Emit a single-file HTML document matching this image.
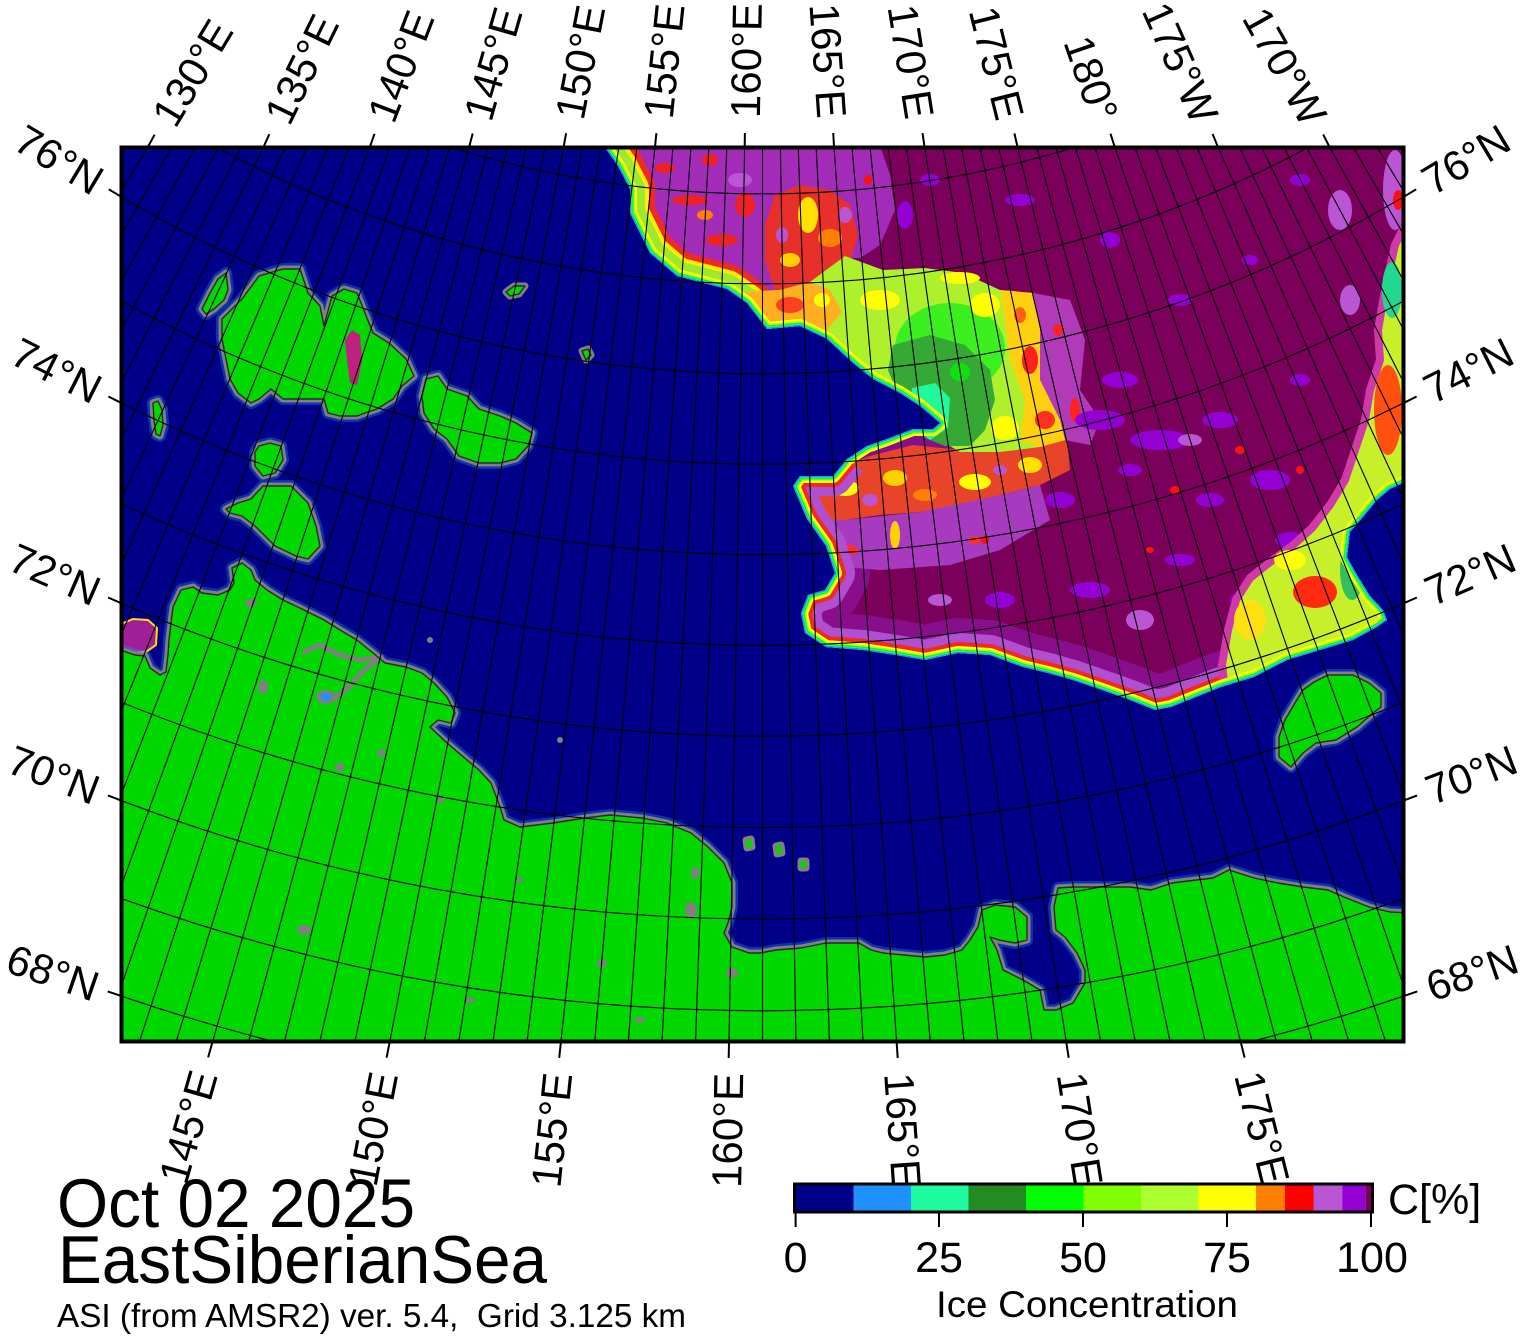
<!DOCTYPE html>
<html><head><meta charset="utf-8">
<style>
html,body{margin:0;padding:0;background:#fff;width:1527px;height:1336px;overflow:hidden}
svg{display:block}
text{font-family:"Liberation Sans",Arial,sans-serif;fill:#000}
</style></head>
<body>
<svg width="1527" height="1336" viewBox="0 0 1527 1336" xmlns="http://www.w3.org/2000/svg">
<defs>
<clipPath id="mc"><rect x="121" y="148" width="1283" height="894"/></clipPath>
<clipPath id="ic"><polygon points="600,100 604,146 618,166 630,189 630,213 650,253 677,276 727,289 747,303 767,329 800,326 827,339 853,363 873,379 900,393 920,406 940,423 933,429 913,429 887,439 867,446 847,459 833,476 800,476 793,486 807,519 826,546 835,573 825,590 808,595 801,613 805,633 826,647 863,650 896,655 925,660 958,653 990,655 1023,667 1048,673 1073,680 1102,690 1130,700 1155,710 1171,707 1196,697 1221,687 1254,677 1287,660 1320,650 1353,640 1377,627 1387,620 1383,610 1370,596 1357,575 1347,557 1350,532 1363,517 1377,500 1390,489 1410,480 1460,480 1460,100"/></clipPath>
<polygon id="ice" points="600,100 604,146 618,166 630,189 630,213 650,253 677,276 727,289 747,303 767,329 800,326 827,339 853,363 873,379 900,393 920,406 940,423 933,429 913,429 887,439 867,446 847,459 833,476 800,476 793,486 807,519 826,546 835,573 825,590 808,595 801,613 805,633 826,647 863,650 896,655 925,660 958,653 990,655 1023,667 1048,673 1073,680 1102,690 1130,700 1155,710 1171,707 1196,697 1221,687 1254,677 1287,660 1320,650 1353,640 1377,627 1387,620 1383,610 1370,596 1357,575 1347,557 1350,532 1363,517 1377,500 1390,489 1410,480 1460,480 1460,100"/>
<polyline id="edgeA" points="600,100 604,146 618,166 630,189 630,213 650,253 677,276 727,289 747,303 767,329"/>
<polyline id="edgeC" points="847,459 833,476 800,476 793,486 807,519 826,546 835,573 825,590 808,595 801,613 805,633 826,647 863,650 896,655 925,660 958,653 990,655 1023,667 1048,673 1073,680 1102,690 1130,700 1155,710 1171,707 1196,697 1221,687 1254,677 1287,660 1320,650 1353,640 1377,627 1387,620 1383,610 1370,596 1357,575 1347,557 1350,532 1363,517 1377,500 1390,489 1410,480"/>
<polygon id="main" points="110,650 120,650 135,655 145,656 150,668 160,675 166,672 168,655 169,640 171,623 173,607 181,590 193,587 202,593 218,595 230,590 234,583 232,568 242,563 251,570 255,580 267,590 283,600 304,610 324,620 340,630 357,640 373,653 385,663 406,667 422,673 434,683 447,697 455,713 451,723 438,720 430,727 447,743 467,760 479,770 491,783 500,807 504,820 520,827 553,823 585,818 610,815 642,818 667,823 691,833 708,847 724,863 732,883 732,907 728,923 724,933 732,947 749,953 760,953 776,950 801,948 826,943 859,943 871,950 883,953 904,955 925,957 945,955 962,950 970,940 978,927 982,910 995,905 1015,907 1027,917 1027,940 1015,943 999,940 990,937 997,950 1003,970 1023,980 1040,990 1044,1010 1056,1010 1073,1003 1085,983 1085,970 1077,953 1065,937 1056,930 1054,907 1058,888 1073,887 1102,887 1130,887 1151,890 1172,883 1196,880 1213,878 1229,870 1254,878 1278,883 1303,887 1328,890 1344,897 1369,907 1390,912 1410,913 1410,1050 110,1050"/>
<polygon id="kot" points="222,319 242,299 259,276 283,269 300,269 308,293 320,306 324,326 332,296 344,289 357,293 365,313 373,333 389,343 406,359 414,376 402,386 393,399 377,409 365,413 357,416 340,416 328,413 324,399 308,399 283,399 271,389 259,399 251,403 238,393 230,379 226,359 222,339"/>
<polygon id="belk" points="202,309 210,293 218,279 226,273 228,290 224,300 214,309 206,314"/>
<polygon id="nsib" points="426,379 438,376 447,389 467,396 479,409 500,416 516,423 532,433 528,446 516,459 500,463 479,463 459,456 447,439 434,429 424,413 422,396"/>
<polygon id="thin" points="153,403 158,401 162,410 163,425 160,436 156,434 154,420"/>
<polygon id="ly1" points="259,446 270,443 281,446 283,460 275,473 263,476 255,466 255,452"/>
<polygon id="ly2" points="263,486 291,486 308,503 316,526 320,546 308,559 296,556 275,546 255,526 242,516 230,513 226,509 238,503 251,499"/>
<polygon id="t1" points="506,292 514,286 525,286 519,294 510,296"/>
<polygon id="t2" points="582,351 588,349 591,355 586,360"/>
<polygon id="wr" points="1328,675 1353,675 1369,683 1381,693 1381,707 1373,713 1357,727 1336,740 1316,743 1303,753 1291,767 1279,757 1279,737 1285,720 1295,703 1303,690 1314,682"/>
<polygon id="s1" points="746,840 751,839 752,847 747,848"/>
<polygon id="s2" points="776,846 781,845 782,853 777,854"/>
<polygon id="s3" points="801,861 806,861 806,868 801,868"/>
</defs>

<g clip-path="url(#mc)">
<rect x="110" y="140" width="1310" height="910" fill="#000088"/>

<!-- ICE -->
<use href="#ice" fill="#7a005c"/>
<g clip-path="url(#ic)" stroke-linejoin="round">
  <use href="#ice" fill="none" stroke="#9a20c8" stroke-width="70" opacity="0.45"/>
  <polygon points="604,146 880,146 890,175 895,210 880,245 860,258 845,258 800,290 760,305 724,290 691,278 675,270 655,255 647,235 630,213 630,189 618,166" fill="#a22cb8"/>
  <g fill="#ee2222">
    <ellipse cx="690" cy="200" rx="18" ry="5"/><ellipse cx="722" cy="240" rx="16" ry="6"/>
    <ellipse cx="665" cy="168" rx="10" ry="5"/><ellipse cx="745" cy="205" rx="10" ry="12"/>
    <ellipse cx="710" cy="160" rx="8" ry="6"/>
  </g>
  <ellipse cx="705" cy="215" rx="8" ry="5" fill="#ff8000"/>
  <ellipse cx="740" cy="180" rx="12" ry="7" fill="#ba55d3"/>
  <polygon points="775,195 800,185 830,190 850,205 858,235 850,262 830,280 800,295 775,290 765,260 765,225" fill="#e8302a"/>
  <ellipse cx="808" cy="215" rx="10" ry="18" fill="#ffe000"/>
  <ellipse cx="830" cy="238" rx="12" ry="9" fill="#ff8000"/>
  <ellipse cx="790" cy="260" rx="10" ry="7" fill="#ffd000"/>
  <ellipse cx="845" cy="215" rx="7" ry="8" fill="#ba55d3"/>
  <ellipse cx="782" cy="235" rx="6" ry="8" fill="#ba55d3"/>
  <polygon points="793,476 833,470 870,456 913,445 960,450 1000,445 1040,436 1067,440 1070,470 1040,485 1000,495 960,505 920,512 880,515 845,520 820,525 807,519 793,486" fill="#e8442a"/>
  <polygon points="807,519 845,520 920,512 1000,495 1040,485 1050,520 1000,550 950,565 880,570 833,566 826,546" fill="#a83ac0"/>
  <ellipse cx="845" cy="488" rx="14" ry="8" fill="#ffff00"/>
  <ellipse cx="895" cy="478" rx="12" ry="8" fill="#ffd000"/>
  <ellipse cx="975" cy="482" rx="16" ry="8" fill="#ffff00"/>
  <ellipse cx="1030" cy="465" rx="12" ry="8" fill="#ffe000"/>
  <ellipse cx="925" cy="495" rx="12" ry="6" fill="#ff8000"/>
  <ellipse cx="870" cy="500" rx="8" ry="6" fill="#ba55d3"/>
  <ellipse cx="1000" cy="470" rx="7" ry="5" fill="#ba55d3"/>
  <ellipse cx="895" cy="535" rx="5" ry="14" fill="#ffd000"/>
  <ellipse cx="850" cy="550" rx="8" ry="5" fill="#ff3020"/>
  <ellipse cx="975" cy="540" rx="6" ry="4" fill="#ff3020"/>
  <polygon points="1033,293 1070,300 1085,340 1080,390 1100,420 1090,445 1065,440 1060,420 1040,380 1040,330" fill="#b03ab8"/>
  <ellipse cx="1075" cy="410" rx="5" ry="12" fill="#ff2020"/>
  <ellipse cx="1058" cy="330" rx="5" ry="6" fill="#ff2020"/>
  <g fill="#9400d3">
   <ellipse cx="1020" cy="200" rx="15" ry="6"/><ellipse cx="1110" cy="240" rx="10" ry="8"/>
   <ellipse cx="1180" cy="300" rx="12" ry="6"/><ellipse cx="1250" cy="260" rx="8" ry="5"/>
   <ellipse cx="1300" cy="180" rx="10" ry="6"/><ellipse cx="1100" cy="420" rx="25" ry="10"/>
   <ellipse cx="1160" cy="440" rx="30" ry="10"/><ellipse cx="1220" cy="420" rx="18" ry="8"/>
   <ellipse cx="1270" cy="480" rx="20" ry="10"/><ellipse cx="1210" cy="500" rx="14" ry="7"/>
   <ellipse cx="1130" cy="470" rx="12" ry="6"/><ellipse cx="1060" cy="500" rx="15" ry="8"/>
   <ellipse cx="1300" cy="380" rx="10" ry="6"/><ellipse cx="930" cy="180" rx="10" ry="6"/>
   <ellipse cx="1180" cy="560" rx="15" ry="6"/><ellipse cx="1090" cy="590" rx="20" ry="8"/>
   <ellipse cx="1000" cy="600" rx="15" ry="8"/><ellipse cx="1250" cy="600" rx="20" ry="10"/>
   <ellipse cx="1290" cy="540" rx="15" ry="8"/><ellipse cx="1120" cy="380" rx="18" ry="8"/>
   <ellipse cx="905" cy="215" rx="8" ry="14"/>
  </g>
  <g fill="#ba55d3">
   <ellipse cx="1140" cy="620" rx="14" ry="10"/><ellipse cx="940" cy="600" rx="12" ry="6"/>
   <ellipse cx="1350" cy="300" rx="10" ry="15"/><ellipse cx="1340" cy="210" rx="12" ry="20"/>
   <ellipse cx="1395" cy="190" rx="12" ry="40"/><ellipse cx="1190" cy="440" rx="12" ry="6"/>
  </g>
  <g fill="#ff1010">
   <ellipse cx="1240" cy="450" rx="5" ry="4"/><ellipse cx="1175" cy="490" rx="5" ry="4"/>
   <ellipse cx="1300" cy="470" rx="4" ry="4"/><ellipse cx="1150" cy="550" rx="4" ry="3"/>
   <ellipse cx="985" cy="540" rx="4" ry="4"/><ellipse cx="1398" cy="200" rx="5" ry="10"/>
   <ellipse cx="868" cy="180" rx="4" ry="5"/>
  </g>
  <use href="#edgeC" fill="none" stroke="#b050d0" stroke-width="40"/>
  <use href="#edgeC" fill="none" stroke="#f02a20" stroke-width="22"/>
  <use href="#edgeA" fill="none" stroke="#f02a20" stroke-width="50"/>
  <use href="#edgeA" fill="none" stroke="#ffee00" stroke-width="38"/>
  <use href="#edgeA" fill="none" stroke="#9ee830" stroke-width="30"/>
  <polygon points="1405,225 1395,245 1385,290 1378,330 1380,360 1370,390 1365,420 1355,450 1345,480 1330,505 1312,528 1292,546 1270,562 1250,578 1236,600 1228,630 1222,665 1225,690 1257,675 1290,660 1317,653 1350,646 1377,635 1387,625 1383,610 1370,596 1357,575 1347,557 1350,532 1363,517 1377,500 1390,489 1410,480 1410,225" fill="#c8f02a" stroke="#d03aa8" stroke-width="8"/>
  <ellipse cx="1315" cy="592" rx="22" ry="16" fill="#ff2a10"/>
  <ellipse cx="1388" cy="410" rx="14" ry="45" fill="#ff5010"/>
  <ellipse cx="1352" cy="570" rx="12" ry="30" fill="#30c060"/>
  <ellipse cx="1392" cy="290" rx="10" ry="28" fill="#20d890"/>
  <ellipse cx="1250" cy="620" rx="16" ry="20" fill="#ffe010"/>
  <ellipse cx="1290" cy="560" rx="16" ry="10" fill="#ffff00"/>
  <polygon points="745,292 780,290 810,282 845,256 883,270 925,268 963,273 1000,290 1033,293 1040,330 1040,380 1060,420 1065,440 1040,447 1000,452 960,452 940,440 941,429 937,419 925,406 896,393 867,376 842,359 822,339 801,328 767,329 747,303" fill="#aef02c"/>
  <polygon points="745,292 780,290 810,282 830,290 842,312 825,332 801,328 767,329 747,303" fill="#ffb020"/>
  <ellipse cx="790" cy="305" rx="14" ry="8" fill="#ff4020"/>
  <ellipse cx="822" cy="300" rx="8" ry="7" fill="#ffff00"/>
  <polygon points="1000,290 1033,293 1040,330 1040,380 1060,420 1065,440 1040,447 1020,440 1025,400 1010,360 1005,320" fill="#ffd010"/>
  <ellipse cx="1030" cy="360" rx="8" ry="14" fill="#ff2020"/>
  <ellipse cx="1045" cy="420" rx="10" ry="9" fill="#ff3020"/>
  <ellipse cx="1020" cy="315" rx="6" ry="8" fill="#ff6010"/>
  <ellipse cx="950" cy="348" rx="55" ry="45" fill="#3cf020"/>
  <ellipse cx="880" cy="300" rx="20" ry="10" fill="#ffff00"/>
  <ellipse cx="985" cy="305" rx="15" ry="12" fill="#ffff00"/>
  <ellipse cx="960" cy="278" rx="20" ry="6" fill="#ffff00"/>
  <ellipse cx="1005" cy="428" rx="14" ry="12" fill="#ffff00"/>
  <polygon points="893,345 930,335 965,345 990,370 995,400 985,430 970,446 945,446 925,438 910,420 898,395 888,370" fill="#35a835"/>
  <ellipse cx="960" cy="372" rx="10" ry="9" fill="#10e010"/>
  <polygon points="912,388 935,383 950,398 948,428 930,440 918,430 910,408" fill="#1efa9a"/>
  <use href="#ice" fill="none" stroke="#ffff00" stroke-width="14"/>
  <use href="#ice" fill="none" stroke="#adff2f" stroke-width="10"/>
  <use href="#ice" fill="none" stroke="#00ff00" stroke-width="7"/>
  <use href="#ice" fill="none" stroke="#1efa9a" stroke-width="4.5"/>
  <use href="#ice" fill="none" stroke="#1e90ff" stroke-width="2.5"/>
</g>

<polygon points="121,624 133,619 148,620 157,628 156,645 146,652 130,653 121,650" fill="#a01e9a" stroke="#ffdd00" stroke-width="2"/>

<!-- LAND -->
<g fill="none" stroke="#1e90ff" stroke-width="12" stroke-linejoin="round" opacity="0.35">
  <use href="#main"/><use href="#kot"/><use href="#belk"/><use href="#nsib"/><use href="#thin"/><use href="#ly1"/><use href="#ly2"/><use href="#wr"/>
</g>
<g fill="#808080" stroke="#808080" stroke-width="7" stroke-linejoin="round">
  <use href="#main"/><use href="#kot"/><use href="#belk"/><use href="#nsib"/><use href="#thin"/><use href="#ly1"/><use href="#ly2"/><use href="#t1"/><use href="#t2"/><use href="#wr"/><use href="#s1"/><use href="#s2"/><use href="#s3"/>
</g>
<g fill="#00d800">
  <use href="#main"/><use href="#kot"/><use href="#belk"/><use href="#nsib"/><use href="#thin"/><use href="#ly1"/><use href="#ly2"/><use href="#t1"/><use href="#t2"/><use href="#wr"/><use href="#s1"/><use href="#s2"/><use href="#s3"/>
</g>
<polygon points="345,340 352,330 360,335 362,360 357,385 350,383 347,360" fill="#c02080"/>
<g fill="none" stroke="#808080" stroke-width="5" stroke-linejoin="round" stroke-linecap="round">
  <polyline points="304,652 320,645 340,655 360,660 381,657"/>
  <polyline points="381,657 362,672 348,688 332,700"/>
</g>
<ellipse cx="326" cy="697" rx="10" ry="7" fill="#808080"/>
<ellipse cx="326" cy="697" rx="5" ry="4" fill="#1e90ff"/>
<g fill="#808080">
  <ellipse cx="263" cy="687" rx="5" ry="7"/><ellipse cx="251" cy="603" rx="6" ry="4"/>
  <ellipse cx="340" cy="767" rx="5" ry="4"/><ellipse cx="304" cy="930" rx="7" ry="5"/>
  <ellipse cx="691" cy="910" rx="6" ry="8"/><ellipse cx="695" cy="873" rx="4" ry="6"/>
  <ellipse cx="732" cy="973" rx="6" ry="5"/><ellipse cx="602" cy="963" rx="5" ry="4"/>
  <ellipse cx="381" cy="753" rx="4" ry="4"/><ellipse cx="440" cy="800" rx="4" ry="3"/>
  <ellipse cx="520" cy="880" rx="3" ry="3"/><ellipse cx="470" cy="1000" rx="5" ry="3"/>
  <ellipse cx="560" cy="740" rx="3" ry="3"/><ellipse cx="640" cy="1020" rx="5" ry="3"/>
  <ellipse cx="430" cy="640" rx="3" ry="3"/>
</g>
<g fill="none" stroke="#2a2a2a" stroke-width="1.4" stroke-linejoin="round">
  <use href="#main"/><use href="#kot"/><use href="#belk"/><use href="#nsib"/><use href="#thin"/><use href="#ly1"/><use href="#ly2"/><use href="#t1"/><use href="#t2"/><use href="#wr"/>
</g>

<!-- GRID: meridians (1 degree) -->
<path fill="none" stroke="#000" stroke-width="1.1" d="M123.88,146L120,152.2M148.42,146L120,193.3M172.45,146L120,236.9M196,146L120,283.1M219.09,146L120,332.4M241.77,146L120,385M264.04,146L120,441.3M285.93,146L120,501.9M307.48,146L120,567.1M328.69,146L120,637.6M349.59,146L120,714.2M370.19,146L120,797.8M390.52,146L120,889.3M410.6,146L120,989.9M430.43,146L138.98,1043M450.04,146L175.8,1043M469.45,146L212.24,1043M488.66,146L248.31,1043M507.69,146L284.04,1043M526.55,146L319.46,1043M545.27,146L354.6,1043M563.84,146L389.48,1043M582.29,146L424.13,1043M600.63,146L458.56,1043M618.87,146L492.8,1043M637.01,146L526.88,1043M655.08,146L560.81,1043M673.09,146L594.61,1043M691.04,146L628.31,1043M708.94,146L661.93,1043M726.81,146L695.49,1043M744.66,146L729,1043M762.5,146L762.5,1043M780.34,146L796,1043M798.19,146L829.51,1043M816.06,146L863.07,1043M833.96,146L896.69,1043M851.91,146L930.39,1043M869.92,146L964.19,1043M887.99,146L998.12,1043M906.13,146L1032.2,1043M924.37,146L1066.44,1043M942.71,146L1100.87,1043M961.16,146L1135.52,1043M979.73,146L1170.4,1043M998.45,146L1205.54,1043M1017.31,146L1240.96,1043M1036.34,146L1276.69,1043M1055.55,146L1312.76,1043M1074.96,146L1349.2,1043M1094.57,146L1386.02,1043M1114.4,146L1405,989.9M1134.48,146L1405,889.3M1154.81,146L1405,797.8M1175.41,146L1405,714.2M1196.31,146L1405,637.6M1217.52,146L1405,567.1M1239.07,146L1405,501.9M1260.96,146L1405,441.3M1283.23,146L1405,385M1305.91,146L1405,332.4M1329,146L1405,283.1M1352.55,146L1405,236.9M1376.58,146L1405,193.3M1401.12,146L1405,152.2"/>
<!-- GRID: parallels (1 degree) -->
<path fill="none" stroke="#000" stroke-width="1.1" d="M120,995.6A1978.8,1978.8 0 0 0 1405,995.6M120,898A1886.8,1886.8 0 0 0 1405,898M120,800.1A1795,1795 0 0 0 1405,800.1M120,701.7A1703.5,1703.5 0 0 0 1405,701.7M120,602.7A1612.3,1612.3 0 0 0 1405,602.7M120,503.1A1521.4,1521.4 0 0 0 1405,503.1M120,402.3A1430.7,1430.7 0 0 0 1405,402.3M120,300.2A1340.2,1340.2 0 0 0 1405,300.2M120,196A1249.9,1249.9 0 0 0 1405,196M214,146A1159.9,1159.9 0 0 0 1311,146M446,146A1069.9,1069.9 0 0 0 1079,146"/>
</g>

<!-- FRAME -->
<rect x="121.5" y="147.5" width="1282" height="894" fill="none" stroke="#000" stroke-width="4"/>

<!-- TICKS -->
<path fill="none" stroke="#000" stroke-width="2" d="M148.4,146L154.6,134.7M264,146L269.3,134.2M370.2,146L374.5,133.8M469.4,146L472.7,133.5M563.8,146L566.1,133.2M655.1,146L656.4,133.1M744.7,146L744.9,133M834,146L833.2,133M924.4,146L922.5,133.1M1017.3,146L1014.4,133.4M1114.4,146L1110.5,133.7M1217.5,146L1212.6,134M1329,146L1323.2,134.5M212.2,1043L208.1,1057.4M389.5,1043L386.6,1057.7M560.8,1043L559.2,1057.9M729,1043L728.7,1058M896.7,1043L897.7,1058M1066.4,1043L1068.7,1057.8M1241,1043L1244.6,1057.6M120,196L108.8,189.3M120,402.3L108.4,396.5M120,602.7L108.1,597.5M120,800.1L107.9,795.4M120,995.6L107.7,991.4M1405,196L1416.2,189.3M1405,402.3L1416.6,396.5M1405,602.7L1416.9,597.5M1405,800.1L1417.1,795.4M1405,995.6L1417.3,991.4"/>

<!-- LABELS -->
<g font-size="42">
<text x="162.8" y="122" dy="0.35em" transform="rotate(-59 162.8 122)">130°E</text>
<text x="276.3" y="120.8" dy="0.35em" transform="rotate(-64 276.3 120.8)">135°E</text>
<text x="380.2" y="119.9" dy="0.35em" transform="rotate(-69 380.2 119.9)">140°E</text>
<text x="477.1" y="119.1" dy="0.35em" transform="rotate(-74 477.1 119.1)">145°E</text>
<text x="569.1" y="118.5" dy="0.35em" transform="rotate(-79 569.1 118.5)">150°E</text>
<text x="658" y="118.2" dy="0.35em" transform="rotate(-84 658 118.2)">155°E</text>
<text x="745.2" y="118" dy="0.35em" transform="rotate(-89 745.2 118)">160°E</text>
<text x="832" y="118.1" dy="0.35em" text-anchor="end" transform="rotate(86 832 118.1)">165°E</text>
<text x="920" y="118.3" dy="0.35em" text-anchor="end" transform="rotate(81 920 118.3)">170°E</text>
<text x="1010.5" y="118.8" dy="0.35em" text-anchor="end" transform="rotate(76 1010.5 118.8)">175°E</text>
<text x="1105.3" y="119.5" dy="0.35em" text-anchor="end" transform="rotate(71 1105.3 119.5)">180°</text>
<text x="1206.1" y="120.4" dy="0.35em" text-anchor="end" transform="rotate(66 1206.1 120.4)">175°W</text>
<text x="1315.4" y="121.5" dy="0.35em" text-anchor="end" transform="rotate(61 1315.4 121.5)">170°W</text>
<text x="203.9" y="1071.8" dy="0.35em" text-anchor="end" transform="rotate(-74 203.9 1071.8)">145°E</text>
<text x="383.8" y="1072.4" dy="0.35em" text-anchor="end" transform="rotate(-79 383.8 1072.4)">150°E</text>
<text x="557.7" y="1072.8" dy="0.35em" text-anchor="end" transform="rotate(-84 557.7 1072.8)">155°E</text>
<text x="728.5" y="1073" dy="0.35em" text-anchor="end" transform="rotate(-89 728.5 1073)">160°E</text>
<text x="898.8" y="1072.9" dy="0.35em" transform="rotate(86 898.8 1072.9)">165°E</text>
<text x="1071.1" y="1072.6" dy="0.35em" transform="rotate(81 1071.1 1072.6)">170°E</text>
<text x="1248.3" y="1072.1" dy="0.35em" transform="rotate(76 1248.3 1072.1)">175°E</text>
<text x="99.4" y="183.7" dy="0.35em" text-anchor="end" transform="rotate(30.94 99.4 183.7)">76°N</text>
<text x="98.6" y="391.5" dy="0.35em" text-anchor="end" transform="rotate(26.68 98.6 391.5)">74°N</text>
<text x="98" y="593.1" dy="0.35em" text-anchor="end" transform="rotate(23.49 98 593.1)">72°N</text>
<text x="97.6" y="791.5" dy="0.35em" text-anchor="end" transform="rotate(20.97 97.6 791.5)">70°N</text>
<text x="97.3" y="987.8" dy="0.35em" text-anchor="end" transform="rotate(18.95 97.3 987.8)">68°N</text>
<text x="1425.6" y="183.7" dy="0.35em" transform="rotate(-30.94 1425.6 183.7)">76°N</text>
<text x="1426.4" y="391.5" dy="0.35em" transform="rotate(-26.68 1426.4 391.5)">74°N</text>
<text x="1427" y="593.1" dy="0.35em" transform="rotate(-23.49 1427 593.1)">72°N</text>
<text x="1427.4" y="791.5" dy="0.35em" transform="rotate(-20.97 1427.4 791.5)">70°N</text>
<text x="1427.7" y="987.8" dy="0.35em" transform="rotate(-18.95 1427.7 987.8)">68°N</text>
</g>

<!-- TITLE -->
<text x="57" y="1227" font-size="69" textLength="358" lengthAdjust="spacingAndGlyphs">Oct 02 2025</text>
<text x="58" y="1283" font-size="68" textLength="489" lengthAdjust="spacingAndGlyphs">EastSiberianSea</text>
<text x="57" y="1327" font-size="33" textLength="629" lengthAdjust="spacingAndGlyphs" style="white-space:pre">ASI (from AMSR2) ver. 5.4,  Grid 3.125 km</text>

<!-- COLORBAR -->
<rect x="796" y="1185" width="57.5" height="26" fill="#000088"/>
<rect x="853.5" y="1185" width="57.5" height="26" fill="#1e90ff"/>
<rect x="911" y="1185" width="57.5" height="26" fill="#1efa9e"/>
<rect x="968.5" y="1185" width="57.5" height="26" fill="#228b22"/>
<rect x="1026" y="1185" width="57.5" height="26" fill="#00ff00"/>
<rect x="1083.5" y="1185" width="57.5" height="26" fill="#7fff00"/>
<rect x="1141" y="1185" width="57.5" height="26" fill="#adff2f"/>
<rect x="1198.5" y="1185" width="57.5" height="26" fill="#ffff00"/>
<rect x="1256" y="1185" width="28.75" height="26" fill="#ff8000"/>
<rect x="1284.75" y="1185" width="28.75" height="26" fill="#ff0000"/>
<rect x="1313.5" y="1185" width="28.75" height="26" fill="#ba55d3"/>
<rect x="1342.25" y="1185" width="23" height="26" fill="#9400d3"/>
<rect x="1365.25" y="1185" width="6" height="26" fill="#7a005c"/>
<rect x="794.5" y="1184" width="578" height="28" fill="none" stroke="#000" stroke-width="3"/>
<path fill="none" stroke="#000" stroke-width="2" d="M795.6,1212V1227M939,1212V1227M1083,1212V1227M1227,1212V1227M1371,1212V1227"/>
<g font-size="43" text-anchor="middle">
<text x="795.6" y="1272">0</text><text x="939" y="1272">25</text><text x="1083" y="1272">50</text><text x="1227" y="1272">75</text><text x="1372" y="1272">100</text>
</g>
<text x="1388" y="1214" font-size="43">C[%]</text>
<text x="1087" y="1317" font-size="37" text-anchor="middle" textLength="302" lengthAdjust="spacingAndGlyphs">Ice Concentration</text>
</svg>
</body></html>
